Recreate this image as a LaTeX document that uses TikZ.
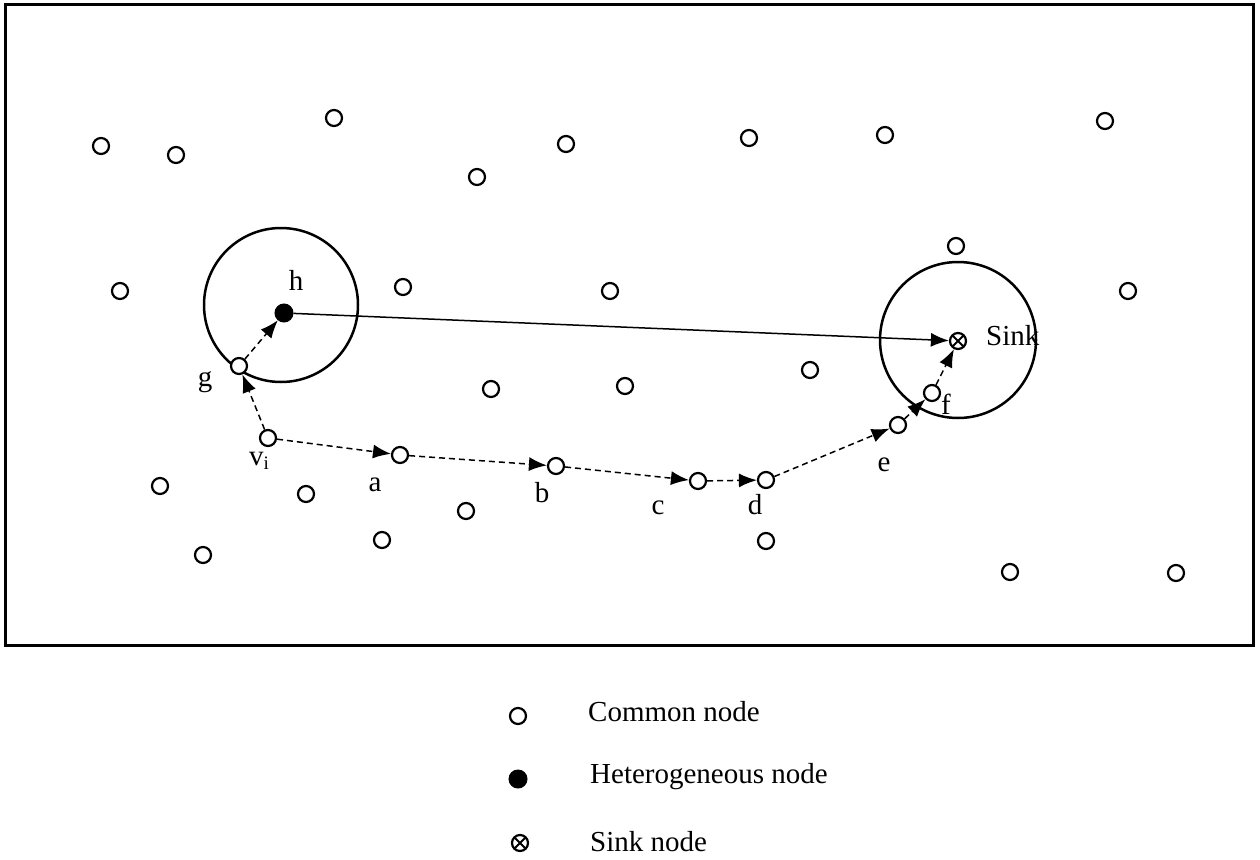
\documentclass[tikz,border=0pt]{standalone}
\usepackage{fontspec}
\setmainfont{Liberation Serif}
\usetikzlibrary{arrows.meta}
\begin{document}
\begin{tikzpicture}[x=1pt,y=-1pt,
  cnode/.style={circle,draw,line width=2.2pt,minimum size=16pt,inner sep=0pt,fill=white},
  hnode/.style={circle,fill=black,draw,line width=1pt,minimum size=18pt,inner sep=0pt},
  snode/.style={circle,draw,line width=2.2pt,minimum size=16pt,inner sep=0pt,fill=white,
     path picture={\draw[line width=1.8pt] (path picture bounding box.north west) -- (path picture bounding box.south east)
       (path picture bounding box.north east) -- (path picture bounding box.south west);}},
  lbl/.style={font=\fontsize{29}{33}\selectfont,inner sep=0pt},
  hop/.style={line width=1.5pt,dash pattern=on 6pt off 4pt,-{Latex[length=18pt,width=14pt]}},
  rangecircle/.style={draw,line width=2.5pt}
]
\useasboundingbox (0,0) rectangle (1260,859);
\draw[line width=3pt] (5,5) rectangle (1253,645);
% range circles
\draw[rangecircle] (281,305) circle (77);
\draw[rangecircle] (958,340) circle (78);
% common nodes
\foreach \p [count=\i] in {(101,146),(176,155),(334,118),(477,177),(566,144),(749,138),(885,135),(1105,121),(956,246),(120,291),(403,287),(610,291),(1128,291),(491,389),(625,386),(810,370),(160,486),(306,494),(466,511),(203,555),(382,540),(766,541),(1010,572),(1176,573)}
  \node[cnode] (n\i) at \p {};
% path nodes
\node[cnode] (g) at (239,366) {};
\node[cnode] (vi) at (268,438) {};
\node[cnode] (a) at (400,455) {};
\node[cnode] (b) at (556,466) {};
\node[cnode] (c) at (698,481) {};
\node[cnode] (d) at (766,480) {};
\node[cnode] (e) at (898,425) {};
\node[cnode] (f) at (932,393) {};
\node[hnode] (h) at (284,313) {};
\node[snode] (sink) at (958,341) {};
% labels
\node[lbl] (lh) at (296,280) {h};
\node[lbl] (lg) at (205,382) {g};
\node[lbl] (lvi) at (259,461) {v\raisebox{-0.25ex}{\fontsize{19}{22}\selectfont i}};
\node[lbl] (la) at (375,485) {a};
\node[lbl] (lb) at (542,493) {b};
\node[lbl] (lc) at (658,508) {c};
\node[lbl] (ld) at (755,505) {d};
\node[lbl] (le) at (884,465) {e};
\node[lbl] (lf) at (946,404) {f};
\node[lbl,anchor=west] (ls) at (986,336) {Sink};
% connectors
\draw[line width=1.5pt,-{Latex[length=18pt,width=14pt]}] (h) -- (sink);
\draw[hop] (vi) -- (g);
\draw[hop] (g) -- (h);
\draw[hop] (vi) -- (a);
\draw[hop] (a) -- (b);
\draw[hop] (b) -- (c);
\draw[hop] (c) -- (d);
\draw[hop] (d) -- (e);
\draw[hop] (e) -- (f);
\draw[hop] (f) -- (sink);
% legend
\node[cnode] (lc1) at (518,716) {};
\node[hnode] (lh1) at (518,779) {};
\node[snode] (ls1) at (520,843) {};
\node[lbl,anchor=west] (t1) at (588,712) {Common node};
\node[lbl,anchor=west] (t2) at (590,777) {Heterogeneous node};
\node[lbl,anchor=west] (t3) at (590,842) {Sink node};
\end{tikzpicture}
\end{document}
